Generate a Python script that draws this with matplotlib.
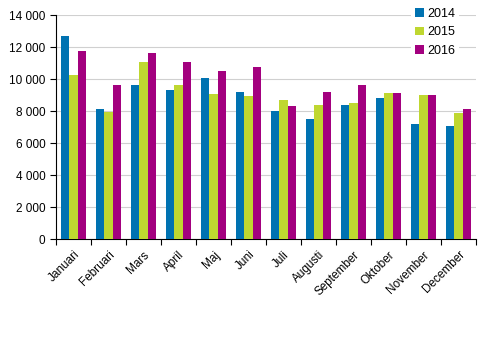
import matplotlib
matplotlib.use('Agg')

import numpy as np
import matplotlib.pyplot as plt
from matplotlib.ticker import FuncFormatter, FixedLocator

months = ['Januari', 'Februari', 'Mars', 'April', 'Maj', 'Juni', 'Juli',
          'Augusti', 'September', 'Oktober', 'November', 'December']
years = ['2014', '2015', '2016']
v2014 = [12690, 8130, 9630, 9310, 10060, 9190, 8000, 7500, 8380, 8810, 7190, 7060]
v2015 = [10250, 7960, 11060, 9630, 9060, 8940, 8690, 8380, 8500, 9130, 9000, 7880]
v2016 = [11750, 9630, 11630, 11060, 10500, 10750, 8310, 9190, 9630, 9130, 9000, 8130]
colors = ['#0072b1', '#bfd730', '#a3007f']

plt.rcParams['font.family'] = ['Liberation Sans', 'DejaVu Sans']

fig = plt.figure(figsize=(4.91, 3.41), dpi=100)
ax = fig.add_axes([56 / 491, 1 - 239 / 341, 420 / 491, 224 / 341])

x = np.arange(len(months))
w = 0.24
for i, (vals, lab) in enumerate(zip([v2014, v2015, v2016], years)):
    ax.bar(x + (i - 1) * w, vals, w, color=colors[i], label=lab, zorder=3)

ax.set_xlim(-0.5, len(months) - 0.5)
ax.set_ylim(0, 14000)
ax.set_yticks(np.arange(0, 14001, 2000))
ax.yaxis.set_major_formatter(FuncFormatter(lambda v, p: f'{int(v):,}'.replace(',', ' ')))
ax.grid(axis='y', color='#d0d0d0', linewidth=0.8, zorder=0)

# month labels centred under groups, ticks on group boundaries
ax.set_xticks(x)
ax.set_xticklabels(months, rotation=45, ha='right', rotation_mode='anchor', fontsize=8.5)
ax.tick_params(axis='x', length=0, pad=7)
ax.xaxis.set_minor_locator(FixedLocator(np.arange(-0.5, len(months), 1)))
ax.tick_params(axis='x', which='minor', length=4, direction='out', width=0.8)
ax.tick_params(axis='y', length=4, width=0.8, labelsize=8.5)

for s in ['top', 'right']:
    ax.spines[s].set_visible(False)
for s in ['left', 'bottom']:
    ax.spines[s].set_linewidth(0.8)

leg = ax.legend(loc='upper right', bbox_to_anchor=(0.975, 1.075), frameon=True,
                fancybox=False, edgecolor='none', framealpha=1, fontsize=9,
                handlelength=0.7, handleheight=0.7, handletextpad=0.3,
                labelspacing=0.5, borderpad=0.3)

fig.savefig('out.png', dpi=100)
